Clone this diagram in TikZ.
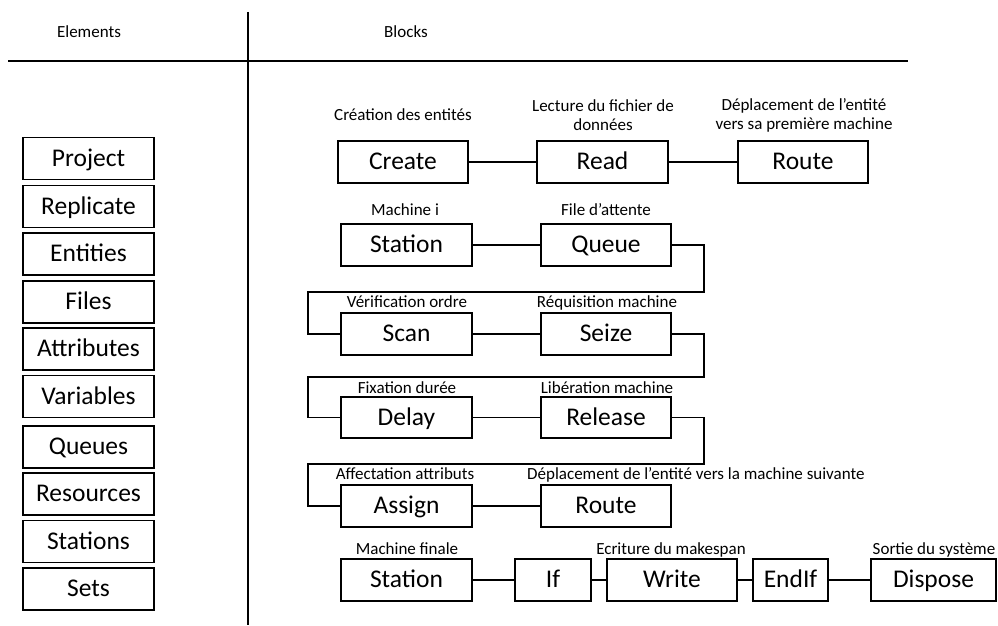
\documentclass[tikz,border=0pt]{standalone}
\usepackage{fontspec}
\setmainfont{Carlito}
\begin{document}
\begin{tikzpicture}[x=1pt,y=-1pt,
  blk/.style={draw,line width=1.3pt,inner sep=0pt,minimum height=42pt,text height=17pt,text depth=2pt,font=\fontsize{25.5}{27}\selectfont},
  elem/.style={blk,minimum width=131pt},
  lbl/.style={inner sep=0pt,font=\fontsize{17}{19}\selectfont,align=center},
  hdr/.style={inner sep=0pt,text height=11pt,text depth=0pt,font=\fontsize{17}{18}\selectfont},
  one/.style={text height=11.5pt,text depth=0pt},
  con/.style={line width=1.3pt}]
\useasboundingbox (0,0) rectangle (998,626);
% header
\node[hdr] (hE) at (89,32) {Elements};
\node[hdr] (hB) at (406,32) {Blocks};
\coordinate (vt) at (248,12); \coordinate (vb) at (248,625);
\coordinate (hl) at (8,61); \coordinate (hr) at (908,61);
\draw[con] (vt) -- (vb);
\draw[con] (hl) -- (hr);
% elements
\node[elem] (e1) at (88.5,158.5) {Project};
\node[elem] (e2) at (88.5,206.5) {Replicate};
\node[elem] (e3) at (88.5,254) {Entities};
\node[elem] (e4) at (88.5,302) {Files};
\node[elem] (e5) at (88.5,349) {Attributes};
\node[elem] (e6) at (88.5,396.5) {Variables};
\node[elem] (e7) at (88.5,447) {Queues};
\node[elem] (e8) at (88.5,494) {Resources};
\node[elem] (e9) at (88.5,541.5) {Stations};
\node[elem] (e10) at (88.5,589) {Sets};
% row 1
\node[blk,minimum width=130pt] (create) at (403,162) {Create};
\node[blk,minimum width=131pt] (read) at (602.5,162) {Read};
\node[blk,minimum width=130pt] (route1) at (803,162) {Route};
\node[lbl,one] (l1) at (403,115) {Création des entités};
\node[lbl] (l2) at (603,115.5) {Lecture du fichier de\\données};
\node[lbl] (l3) at (804,115.5) {Déplacement de l’entité\\vers sa première machine};
\draw[con] (create) -- (read);
\draw[con] (read) -- (route1);
% row 2
\node[blk,minimum width=131pt] (station) at (406.5,245) {Station};
\node[blk,minimum width=130pt] (queue) at (606,245) {Queue};
\node[lbl,one] (l4) at (405,210) {Machine i};
\node[lbl,one] (l5) at (606,210) {File d’attente};
\draw[con] (station) -- (queue);
% row 3
\node[blk,minimum width=131pt] (scan) at (406.5,334) {Scan};
\node[blk,minimum width=130pt] (seize) at (606,334) {Seize};
\node[lbl,one] (l6) at (407,302) {Vérification ordre};
\node[lbl,one] (l7) at (607,302) {Réquisition machine};
\draw[con] (scan) -- (seize);
\draw[con] (queue.east) -- (704,245) -- (704,292) -- (308,292) -- (308,334) -- (scan.west);
% row 4
\node[blk,minimum width=131pt,minimum height=41pt] (delay) at (406.5,417.5) {Delay};
\node[blk,minimum width=130pt,minimum height=41pt] (release) at (606,417.5) {Release};
\node[lbl,one] (l8) at (407,388) {Fixation durée};
\node[lbl,one] (l9) at (607,388) {Libération machine};
\draw[con] (delay) -- (release);
\draw[con] (seize.east) -- (704,334) -- (704,377) -- (308,377) -- (308,417.5) -- (delay.west);
% row 5
\node[blk,minimum width=131pt] (assign) at (406.5,506) {Assign};
\node[blk,minimum width=130pt] (route2) at (606,506) {Route};
\node[lbl,one] (l10) at (405,474) {Affectation attributs};
\node[lbl,one,anchor=west] (l11) at (527,474) {Déplacement de l’entité vers la machine suivante};
\draw[con] (assign) -- (route2);
\draw[con] (release.east) -- (704,417.5) -- (704,464) -- (308,464) -- (308,506) -- (assign.west);
% row 6
\node[blk,minimum width=131pt] (station2) at (406.5,580) {Station};
\node[blk,minimum width=76pt] (if) at (553,580) {If};
\node[blk,minimum width=130pt] (write) at (672,580) {Write};
\node[blk,minimum width=75pt] (endif) at (790.5,580) {EndIf};
\node[blk,minimum width=125pt] (dispose) at (933.5,580) {Dispose};
\node[lbl,one] (l12) at (407,549) {Machine finale};
\node[lbl,one] (l13) at (671,549) {Ecriture du makespan};
\node[lbl,one] (l14) at (934,549) {Sortie du système};
\draw[con] (station2) -- (if);
\draw[con] (if) -- (write);
\draw[con] (write) -- (endif);
\draw[con] (endif) -- (dispose);
\end{tikzpicture}
\end{document}
